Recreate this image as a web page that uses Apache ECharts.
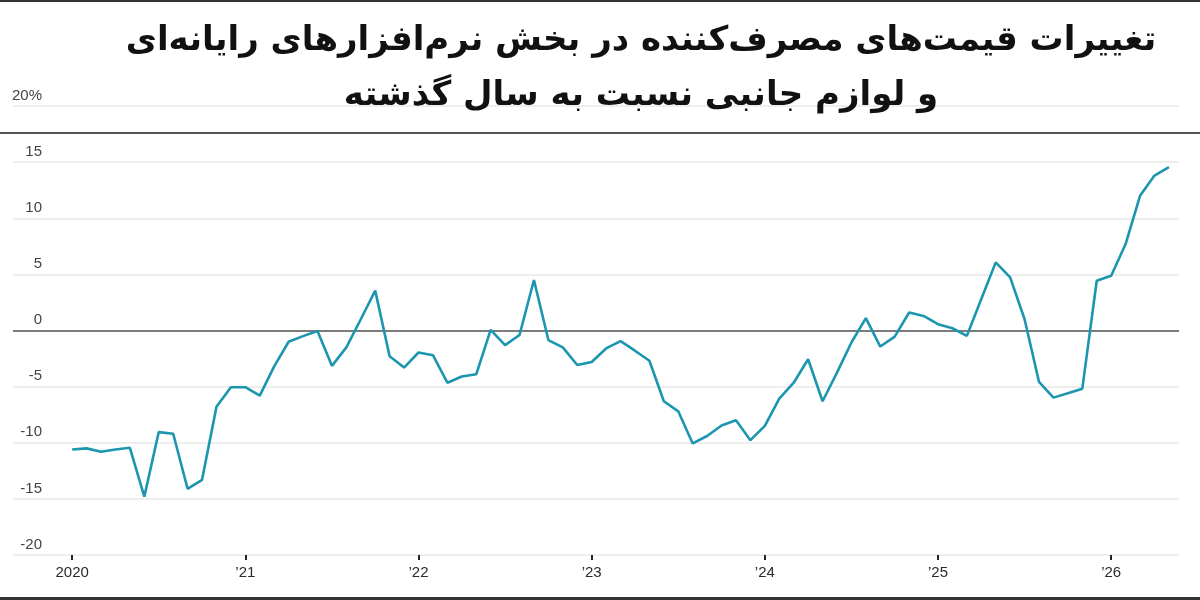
<!DOCTYPE html>
<html>
<head>
<meta charset="utf-8">
<script src="https://cdn.jsdelivr.net/npm/echarts@6/dist/echarts.min.js"></script>
<style>html,body{margin:0;padding:0;background:#fff;}#c{width:1200px;height:600px;}</style>
</head>
<body>
<div id="c"></div>
<script>
// Monthly year-over-year change, Jan 2020 .. May 2026 (%)
const months = [
  '2020-01','2020-02','2020-03','2020-04','2020-05','2020-06','2020-07','2020-08','2020-09','2020-10','2020-11','2020-12',
  '2021-01','2021-02','2021-03','2021-04','2021-05','2021-06','2021-07','2021-08','2021-09','2021-10','2021-11','2021-12',
  '2022-01','2022-02','2022-03','2022-04','2022-05','2022-06','2022-07','2022-08','2022-09','2022-10','2022-11','2022-12',
  '2023-01','2023-02','2023-03','2023-04','2023-05','2023-06','2023-07','2023-08','2023-09','2023-10','2023-11','2023-12',
  '2024-01','2024-02','2024-03','2024-04','2024-05','2024-06','2024-07','2024-08','2024-09','2024-10','2024-11','2024-12',
  '2025-01','2025-02','2025-03','2025-04','2025-05','2025-06','2025-07','2025-08','2025-09','2025-10','2025-11','2025-12',
  '2026-01','2026-02','2026-03','2026-04','2026-05'
];
const values2020 = [-10.6, -10.5, -10.8, -10.6, -10.45, -14.8, -9.05, -9.2, -14.1, -13.3, -6.8, -5.05];
const values2021 = [-5.05, -5.8, -3.2, -1.0, -0.5, -0.05, -3.15, -1.5, 1.0, 3.55, -2.3, -3.3];
const values2022 = [-1.96, -2.2, -4.65, -4.1, -3.9, 0.05, -1.3, -0.4, 4.5, -0.85, -1.5, -3.07];
const values2023 = [-2.8, -1.6, -0.95, -1.8, -2.7, -6.3, -7.2, -10.06, -9.4, -8.46, -8.0, -9.77];
const values2024 = [-8.5, -6.07, -4.65, -2.56, -6.3, -3.75, -1.07, 1.1, -1.43, -0.54, 1.6, 1.3];
const values2025 = [0.56, 0.2, -0.48, 2.8, 6.07, 4.73, 1.0, -4.58, -5.98, -5.6, -5.18, 4.43];
const values2026 = [4.88, 7.7, 12.0, 13.8, 14.55];

const xTickIndex = [0, 12, 24, 36, 48, 60, 72];
const xTickLabels = ['2020', '\u201921', '\u201922', '\u201923', '\u201924', '\u201925', '\u201926'];
const yTicks = [-20, -15, -10, -5, 0, 5, 10, 15, 20];

const titleLine1 = 'تغییرات قیمت\u200cهای مصرف\u200cکننده در بخش نرم\u200cافزارهای رایانه\u200cای';
const titleLine2 = 'و لوازم جانبی نسبت به سال گذشته';

const allValues = [].concat(values2020, values2021, values2022, values2023, values2024, values2025, values2026);
const seriesData = allValues.map((v, i) => [i, v]);

const chart = echarts.init(document.getElementById('c'), null, {renderer: 'canvas'});
chart.setOption({
  backgroundColor: '#ffffff',
  animation: false,
  title: {
    text: titleLine1 + '\n' + titleLine2,
    left: 641,
    top: 14,
    padding: 0,
    textAlign: 'center',
    textStyle: {
      fontFamily: 'DejaVu Sans',
      fontWeight: 'bold',
      fontSize: 34,
      lineHeight: 55,
      color: '#111'
    }
  },
  grid: {left: 13, right: 21, top: 106, bottom: 45, containLabel: false},
  xAxis: {
    type: 'value',
    min: -4.1,
    max: 76.7,
    splitLine: {show: false},
    axisLine: {show: false, onZero: false},
    axisTick: {
      show: true,
      customValues: xTickIndex,
      length: 5,
      lineStyle: {color: '#222', width: 2}
    },
    axisLabel: {
      customValues: xTickIndex,
      formatter: function (v) {
        const k = xTickIndex.indexOf(Math.round(v));
        return k >= 0 ? xTickLabels[k] : '';
      },
      margin: 10,
      fontFamily: 'Liberation Sans',
      fontSize: 15,
      color: '#2a2a2a'
    }
  },
  yAxis: {
    type: 'value',
    min: yTicks[0],
    max: yTicks[yTicks.length - 1],
    interval: 5,
    axisLine: {show: false},
    axisTick: {show: false},
    splitLine: {lineStyle: {color: '#e8e8e8', width: 1.5}},
    axisLabel: {
      inside: true,
      margin: 29,
      align: 'right',
      verticalAlign: 'bottom',
      padding: [0, 0, 3, 0],
      fontFamily: 'Liberation Sans',
      fontSize: 15,
      color: '#444',
      formatter: function (v) { return v === 20 ? '20%' : String(v); }
    }
  },
  series: [{
    type: 'line',
    data: seriesData,
    showSymbol: false,
    symbol: 'none',
    lineStyle: {color: '#1b96ae', width: 2.6},
    z: 3,
    markLine: {
      silent: true,
      symbol: 'none',
      label: {show: false},
      lineStyle: {color: '#555', width: 1.5, type: 'solid'},
      data: [{yAxis: 0}],
      z: 2
    }
  }],
  graphic: [
    {type: 'line', shape: {x1: 0, y1: 1, x2: 1200, y2: 1}, style: {stroke: '#333', lineWidth: 2}, silent: true},
    {type: 'line', shape: {x1: 0, y1: 133, x2: 1200, y2: 133}, style: {stroke: '#555', lineWidth: 2}, silent: true},
    {type: 'line', shape: {x1: 0, y1: 598.5, x2: 1200, y2: 598.5}, style: {stroke: '#333', lineWidth: 3}, silent: true}
  ]
});
</script>
</body>
</html>
